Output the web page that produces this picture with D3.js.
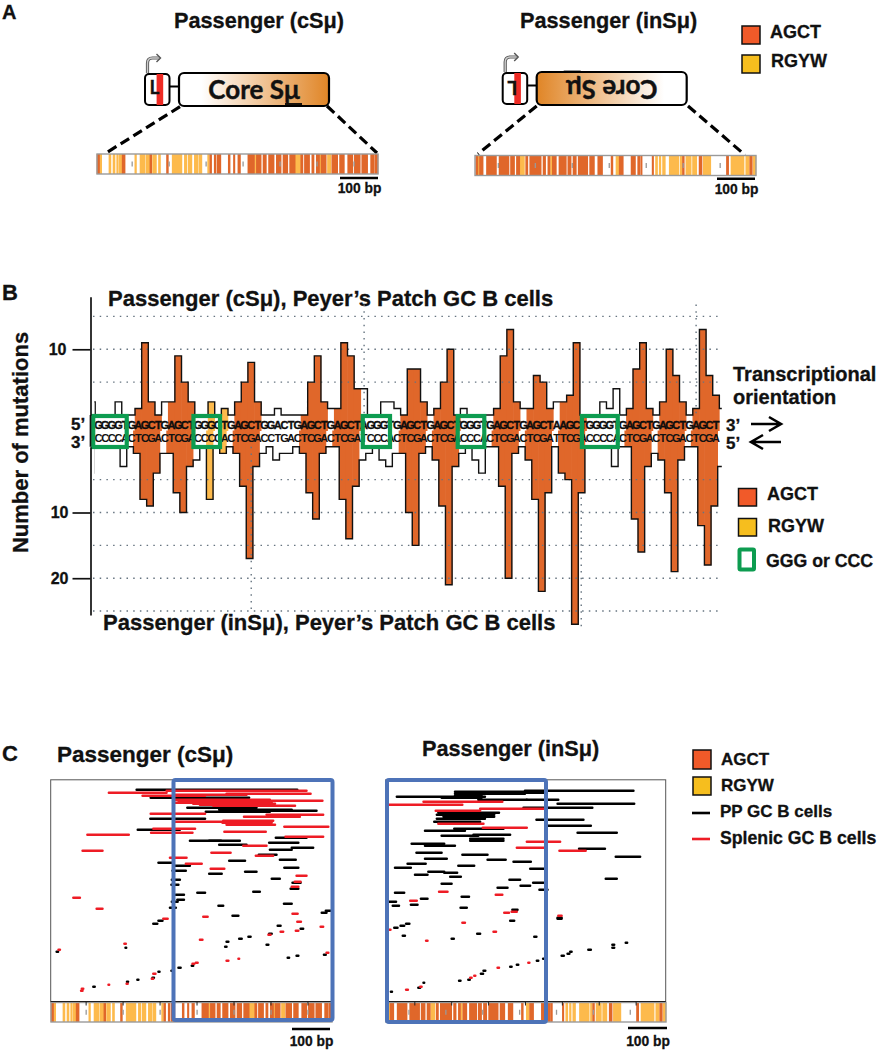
<!DOCTYPE html>
<html>
<head>
<meta charset="utf-8">
<script src="https://cdn.jsdelivr.net/npm/d3@7"></script>
<style>
  html, body { margin: 0; padding: 0; background: #fff; }
  svg { display: block; }
  text { font-family: "Liberation Sans", Arial, sans-serif; font-weight: bold; fill: #111; }
</style>
</head>
<body>
<div id="chart"></div>
<script>
// motif stripes along the 760 bp core region, [start, end] in bp
const cAgct = [[0,7],[68,76],[143,148],[188,193],[305,310],[317,322],[325,335],[355,360],[369,373],[381,388],[408,426],[431,444],[449,458],[464,479],[485,498],[503,516],[521,536],[551,557],[561,575],[581,587],[593,602],[606,620],[635,651],[656,669],[678,692],[696,712],[716,732],[740,750],[752,760]];
const cRgyw = [[7,13],[32,38],[43,49],[53,58],[60,68],[102,107],[116,130],[132,143],[150,161],[166,172],[203,230],[236,243],[246,257],[263,274],[276,284],[299,304],[426,431],[536,551],[602,606],[623,633]];
const inAgct = [[2,8],[12,22],[31,58],[65,92],[96,107],[112,121],[137,143],[148,179],[184,191],[197,203],[209,220],[227,247],[251,260],[265,274],[279,305],[310,323],[332,345],[368,373],[390,401],[422,434],[440,447],[449,452],[479,483],[561,566],[606,614],[680,686],[743,750]];
const inRgyw = [[8,12],[122,134],[204,208],[381,389],[488,494],[498,503],[507,515],[525,552],[555,560],[570,585],[588,600],[617,638],[692,728],[732,742],[752,760]];
const cMarks = [95,195,295,395,495,595,695];
const inMarks = [63,163,263,363,463,563,663];
const inRulerC = [79,179,279,379,479,579,679];

// panel B, mutations per nucleotide on each strand (bin 0 is the cut off bin before the sequence)
const sequence = ' GGGGTGAGCTGAGCTGGGGTGAGCTGGACTGAGCTGAGCTAGGGTGAGCTGAGCTGGGTGAGCTGAGCTAAGCTGGGGTGAGCTGAGCTGAGCT';
const topCounts = [2,0,0,0,2,0,0,1,11,2,0,2,2,9,5,2,0,0,2,0,1,0,2,5,8,2,0,0,1,0,0,0,0,5,9,2,1,1,11,9,4,4,0,0,2,2,1,0,7,7,2,0,1,5,10,0,1,0,0,0,0,1,9,13,2,1,1,6,5,1,2,2,3,11,0,0,0,2,1,4,0,1,7,11,1,0,2,10,6,2,0,1,13,6,3,1];
const bottomCounts = [4,0,0,0,0,3,0,1,8,9,4,1,1,7,10,3,2,0,8,0,1,0,1,6,17,3,1,0,2,1,1,0,1,7,11,1,0,0,8,14,6,2,1,0,2,3,1,1,10,15,1,0,2,9,21,3,1,0,2,4,0,0,6,20,1,0,2,8,22,7,0,4,5,27,7,0,0,0,0,3,0,0,11,16,3,1,2,7,19,2,0,0,12,18,9,3];
const rgywBins = [18,20];
const gggStart = [0.7,15.8,41.3,55.6,74.3];
const gggEnd = [5.75,19.8,45.4,59.6,79.7];
const topTicks = [10];
const bottomTicks = [10,20];
const topGrid = [15,10,5];
const bottomGrid = [5,10,15,20,25];

// panel C, mutated tracts [start bp, end bp, row]
const cPP = [[232,666,212],[270,536,204],[369,556,194],[455,651,192],[419,592,190],[536,718,191],[269,417,183],[235,349,172],[376,511,161],[428,460,161],[608,691,164],[590,669,159],[455,529,157],[592,651,152],[651,709,154],[562,610,147],[619,662,142],[482,525,141],[291,331,139],[336,376,136],[631,669,134],[329,365,131],[525,556,130],[428,462,128],[597,619,123],[327,349,122],[326,345,117],[653,675,119],[648,669,113],[396,417,109],[547,565,110],[338,360,107],[342,360,102],[327,343,100],[453,466,96],[630,651,98],[322,338,94],[491,507,86],[732,745,89],[743,756,91],[291,302,81],[277,288,78],[613,621,76],[534,540,65],[509,516,63],[475,480,60],[471,475,55],[583,588,57],[590,597,68],[675,682,73],[16,20,50],[202,204,54],[640,644,44],[664,669,46],[738,743,47],[345,351,34],[326,330,31],[291,294,30],[381,385,36],[275,279,24],[115,119,15],[234,237,22],[206,209,20]];
const cSplenic = [[157,313,209],[313,691,211],[475,702,208],[248,417,206],[331,529,207],[336,592,202],[345,734,201],[336,597,199],[385,606,198],[439,660,196],[403,556,197],[270,417,188],[522,673,185],[583,736,187],[333,464,180],[466,601,181],[464,597,179],[475,606,177],[277,390,173],[271,383,169],[469,581,170],[631,750,175],[99,211,167],[634,736,165],[520,583,156],[86,140,151],[434,486,149],[554,601,146],[322,367,144],[365,408,138],[432,469,133],[664,691,126],[659,675,120],[651,669,115],[61,79,104],[124,140,93],[304,316,83],[412,424,85],[653,667,88],[666,676,80],[729,736,75],[621,628,70],[662,669,71],[588,594,67],[403,410,62],[199,203,58],[21,25,52],[745,750,49],[475,480,41],[507,509,43],[392,397,39],[383,388,38],[277,283,28],[273,277,23],[84,88,13],[82,86,11],[156,158,17],[205,208,18]];
const inPP = [[30,268,205],[187,376,208],[187,376,210],[187,259,206],[151,259,204],[376,669,211],[376,430,209],[250,381,202],[381,466,202],[464,671,198],[372,558,194],[142,306,189],[138,293,187],[156,293,185],[138,268,183],[131,255,180],[106,214,171],[185,318,173],[407,534,182],[432,554,176],[518,624,169],[151,250,166],[237,336,167],[228,318,163],[228,318,161],[70,158,158],[106,158,156],[133,187,156],[522,592,153],[83,151,149],[106,165,143],[207,275,147],[621,687,145],[275,324,142],[345,392,140],[59,108,138],[25,68,134],[196,239,136],[390,430,133],[115,158,130],[158,193,129],[79,113,127],[174,203,125],[334,363,122],[594,624,123],[398,426,119],[364,390,116],[151,178,118],[302,329,114],[25,50,109],[415,437,112],[205,225,105],[95,113,103],[9,28,100],[68,86,97],[19,36,96],[202,219,94],[342,356,92],[336,347,81],[55,64,78],[40,50,76],[23,32,74],[464,475,84],[464,475,83],[247,255,68],[46,52,66],[178,184,63],[401,407,65],[612,617,57],[612,617,54],[648,652,59],[547,554,52],[498,502,50],[491,496,48],[475,481,46],[425,429,43],[408,412,41],[354,358,37],[336,340,35],[264,269,31],[257,263,28],[223,227,22],[198,202,21],[102,104,19],[88,93,14],[14,17,10]];
const inSplenic = [[5,207,197],[102,315,200],[135,255,191],[255,426,193],[142,264,178],[262,381,174],[381,471,160],[354,430,154],[469,540,151],[144,167,110],[66,84,101],[297,315,107],[320,333,89],[340,354,90],[466,475,86],[207,214,79],[5,13,72],[291,298,70],[109,113,61],[385,388,39],[302,306,34],[239,242,26],[228,232,24],[93,97,15],[55,60,12]];

const width = 883;
const height = 1050;
const orange = '#e0672a';
const yellow = '#fdba4c';
const legendOrange = '#f15a29';
const legendYellow = '#f6be1e';
const green = '#0d9c50';
const blue = '#4d73b8';
const red = '#ee1c25';

const svg = d3.select('#chart').append('svg')
    .attr('width', width)
    .attr('height', height);

const defs = svg.append('defs');

const label = (txt, x, y, size, anchor) => svg.append('text')
    .attr('x', x)
    .attr('y', y)
    .attr('font-size', size)
    .attr('text-anchor', anchor || 'start')
    .attr('stroke', '#111')
    .attr('stroke-width', 0.3)
    .text(txt);

// barcode of AGCT / RGYW stripes
const drawTrack = (x0, x1, y, h, agct, rgyw, marks) => {
    const x = d3.scaleLinear().domain([0, 760]).range([x0, x1]);
    const g = svg.append('g');
    g.append('rect').attr('x', x0).attr('y', y).attr('width', x1 - x0).attr('height', h).attr('fill', '#fff');
    g.selectAll('.y').data(rgyw).enter().append('rect')
        .attr('x', d => x(d[0]) - 0.2)
        .attr('y', y)
        .attr('width', d => x(d[1]) - x(d[0]) + 0.4)
        .attr('height', h)
        .attr('fill', yellow);
    g.selectAll('.o').data(agct).enter().append('rect')
        .attr('x', d => x(d[0]) - 0.3)
        .attr('y', y)
        .attr('width', d => x(d[1]) - x(d[0]) + 0.6)
        .attr('height', h)
        .attr('fill', orange);
    g.selectAll('.m').data(marks).enter().append('rect')
        .attr('x', d => x(d) - 0.6)
        .attr('y', y + h / 2 - 2.5)
        .attr('width', 1.3)
        .attr('height', 5)
        .attr('fill', '#999');
    g.append('rect').attr('x', x0).attr('y', y).attr('width', x1 - x0).attr('height', h)
        .attr('fill', 'none').attr('stroke', '#9a9a9a').attr('stroke-width', 1.4);
};

const scaleBar = (x0, x1, y, textY) => {
    svg.append('line').attr('x1', x0).attr('x2', x1).attr('y1', y).attr('y2', y)
        .attr('stroke', '#000').attr('stroke-width', 2.4);
    label('100 bp', (x0 + x1) / 2 + 0.5, textY, 13.8, 'middle');
};

// construct cartoon in panel A
const drawConstruct = (lx, coreX, coreW, y, h, flip) => {
    const gradId = flip ? 'coreIn' : 'coreC';
    const grad = defs.append('linearGradient').attr('id', gradId)
        .attr('x1', flip ? 1 : 0).attr('x2', flip ? 0 : 1).attr('y1', 0).attr('y2', 0);
    grad.append('stop').attr('offset', '0.15').attr('stop-color', '#fff');
    grad.append('stop').attr('offset', '1').attr('stop-color', '#e08526');

    svg.append('rect').attr('x', lx).attr('y', y + 1).attr('width', 24.5).attr('height', h - 2)
        .attr('rx', 4).attr('fill', '#fff').attr('stroke', '#000').attr('stroke-width', 2);
    svg.append('rect').attr('x', lx + 11.6).attr('y', y + 1).attr('width', 6.6).attr('height', h - 2)
        .attr('fill', '#ee2b24');
    const ell = label('L', lx + 9.5, y + 21, 19, 'middle').style('font-family', 'Lato');
    if (flip) ell.attr('transform', `rotate(180 ${lx + 9.5} ${y + 15})`);
    svg.append('line').attr('x1', lx + 24.5).attr('x2', coreX).attr('y1', y + 13.5).attr('y2', y + 13.5)
        .attr('stroke', '#000').attr('stroke-width', 2);
    svg.append('rect').attr('x', coreX).attr('y', y).attr('width', coreW).attr('height', h)
        .attr('rx', 5).attr('fill', `url(#${gradId})`).attr('stroke', '#000').attr('stroke-width', 2.2);

    const cx = coreX + coreW / 2;
    const cy = y + h / 2;
    svg.append('text')
        .attr('x', cx)
        .attr('y', cy + 9)
        .attr('text-anchor', 'middle')
        .attr('font-size', 26)
        .attr('stroke', '#111')
        .attr('stroke-width', 0.4)
        .style('font-family', 'Lato')
        .attr('transform', flip ? `rotate(180 ${cx} ${cy})` : null)
        .text('Core Sμ');
    const smudge = flip ? [coreX + 27, coreX + 44, y - 0.5] : [coreX + 106, coreX + 123, y + 31];
    svg.append('line').attr('x1', smudge[0]).attr('x2', smudge[1]).attr('y1', smudge[2]).attr('y2', smudge[2])
        .attr('stroke', '#000').attr('stroke-width', 1.8);

    // promoter arrow
    const ax = lx + 2.5;
    const arrow = `M${ax},${y} L${ax},${y - 10} Q${ax},${y - 15} ${ax + 5},${y - 15} L${ax + 12},${y - 15}`;
    svg.append('path').attr('d', arrow).attr('fill', 'none').attr('stroke', '#555').attr('stroke-width', 3.2);
    svg.append('path').attr('d', arrow).attr('fill', 'none').attr('stroke', '#ccc').attr('stroke-width', 1.4);
    svg.append('path').attr('d', `M${ax + 9},${y - 19} L${ax + 13},${y - 15} L${ax + 9},${y - 11}`)
        .attr('fill', 'none').attr('stroke', '#555').attr('stroke-width', 1.4);
};

const dashed = (x1, y1, x2, y2) => svg.append('line')
    .attr('x1', x1).attr('y1', y1).attr('x2', x2).attr('y2', y2)
    .attr('stroke', '#000').attr('stroke-width', 3.2).attr('stroke-dasharray', '10 5');

const swatch = (x, y, w, h, fill) => svg.append('rect')
    .attr('x', x).attr('y', y).attr('width', w).attr('height', h)
    .attr('fill', fill).attr('stroke', '#111').attr('stroke-width', 1.5);

// ---------- panel A ----------
label('A', 2, 19, 20);
label('Passenger (cSμ)', 174, 28, 21.7);
label('Passenger (inSμ)', 520, 28, 21.7);

drawConstruct(145, 179, 150, 73, 33, false);
drawConstruct(502.7, 536.7, 150, 72, 33, true);
dashed(180, 106.7, 106, 153);
dashed(327, 106, 377, 153);
dashed(536.7, 106, 478, 154);
dashed(688, 106, 745, 155);

drawTrack(97, 378, 154, 20, cAgct, cRgyw, cMarks);
drawTrack(475, 756, 155.5, 20, inAgct, inRgyw, inMarks);
scaleBar(340, 378, 178, 193);
scaleBar(717, 755, 178.7, 194);

swatch(742, 26, 18, 18, legendOrange);
swatch(742, 55, 18, 18, legendYellow);
label('AGCT', 770, 38, 18);
label('RGYW', 771, 67, 18);

// ---------- panel B ----------
label('B', 2, 300, 22);
label('Passenger (cSμ), Peyer’s Patch GC B cells', 108, 306, 22);
label('Passenger (inSμ), Peyer’s Patch GC B cells', 103, 630, 22);

const bins = d3.range(topCounts.length);
const x = d3.scaleLinear().domain([0, 1]).range([88.55, 95.19]);
const xb = d3.scaleLinear().domain([0, 1]).range([86.9, 93.54]);
const yTop = d3.scaleLinear().domain([0, 18]).range([415, 296.7]);
const yBot = d3.scaleLinear().domain([0, 25.6]).range([446.8, 615]);
const bandMid = 431;

// which bins are AGCT hotspots
const agctBins = [];
for (let i = sequence.indexOf('AGCT'); i >= 0; i = sequence.indexOf('AGCT', i + 1)) {
    agctBins.push(i, i + 1, i + 2, i + 3);
}
const binColor = i => agctBins.includes(i) ? orange : (rgywBins.includes(i) ? yellow : null);
const filled = bins.filter(i => binColor(i));

defs.append('clipPath').attr('id', 'histClip').append('rect')
    .attr('x', 94.3).attr('y', 290).attr('width', 627.5).attr('height', 345);

const hist = svg.append('g').attr('clip-path', 'url(#histClip)');

// neighbouring bins overlap a little so no seam shows between them
const barW = x(1) - x(0);
hist.selectAll('.barTop').data(filled).enter().append('rect')
    .attr('x', d => x(d) - 0.3)
    .attr('y', d => yTop(topCounts[d]))
    .attr('width', barW + 0.6)
    .attr('height', d => bandMid - yTop(topCounts[d]))
    .attr('fill', binColor);
hist.selectAll('.barBot').data(filled).enter().append('rect')
    .attr('x', d => xb(d) - 0.3)
    .attr('y', bandMid - 0.5)
    .attr('width', barW + 0.6)
    .attr('height', d => yBot(bottomCounts[d]) - bandMid + 0.5)
    .attr('fill', binColor);

// dotted grid
const dots = sel => sel.attr('stroke', '#667480').attr('stroke-width', 1.4).attr('stroke-dasharray', '1.5 5.2');
svg.selectAll('.gt').data(topGrid).enter().append('line')
    .attr('x1', 93).attr('x2', 722)
    .attr('y1', d => yTop(d)).attr('y2', d => yTop(d))
    .call(dots);
svg.selectAll('.gb').data(bottomGrid).enter().append('line')
    .attr('x1', 93).attr('x2', 722)
    .attr('y1', d => yBot(d)).attr('y2', d => yBot(d))
    .call(dots);
[[41.5, yTop(16.8), yTop(0)], [91.5, yTop(16.8), yTop(0)], [24.5, yBot(0), yBot(25)], [74.2, yBot(7.7), yBot(28)]].forEach(v => {
    svg.append('line').attr('x1', x(v[0])).attr('x2', x(v[0])).attr('y1', v[1]).attr('y2', v[2]).call(dots);
});

const stepTop = d3.line().curve(d3.curveStepAfter).x(d => x(d)).y(d => yTop(topCounts[Math.min(d, 95)]));
const stepBot = d3.line().curve(d3.curveStepAfter).x(d => xb(d)).y(d => yBot(bottomCounts[Math.min(d, 95)]));
const edges = d3.range(topCounts.length + 1);
const histLines = svg.append('g').attr('clip-path', 'url(#histClip)');
histLines.append('path').attr('d', stepTop(edges)).attr('fill', 'none').attr('stroke', '#111').attr('stroke-width', 1.4);
histLines.append('path').attr('d', stepBot(edges)).attr('fill', 'none').attr('stroke', '#111').attr('stroke-width', 1.4);

// the two strands, one letter per bin
const complement = {G: 'C', C: 'G', A: 'T', T: 'A'};
const letters = bins.filter(i => sequence[i] && sequence[i] !== ' ');
svg.selectAll('.seqTop').data(letters).enter().append('text')
    .attr('x', d => x(d) + 3.3)
    .attr('y', 429.3)
    .attr('text-anchor', 'middle')
    .attr('font-size', 11)
    .attr('stroke', '#000')
    .attr('stroke-width', 0.3)
    .text(d => sequence[d]);
svg.selectAll('.seqBot').data(letters).enter().append('text')
    .attr('x', d => x(d) + 3.3)
    .attr('y', 441.5)
    .attr('text-anchor', 'middle')
    .attr('font-size', 11)
    .text(d => complement[sequence[d]]);

svg.selectAll('.ggg').data(gggStart).enter().append('rect')
    .attr('x', d => x(d))
    .attr('y', 416)
    .attr('width', (d, i) => x(gggEnd[i]) - x(d))
    .attr('height', 31)
    .attr('fill', 'none')
    .attr('stroke', green)
    .attr('stroke-width', 4.2);

// y axis, built from the two scales
const axisTop = d3.axisLeft(yTop).tickValues(topTicks).tickSizeInner(18).tickSizeOuter(0).tickPadding(6);
const axisBot = d3.axisLeft(yBot).tickValues(bottomTicks).tickSizeInner(18).tickSizeOuter(0).tickPadding(4);
[svg.append('g').call(axisTop), svg.append('g').call(axisBot)].forEach(a => {
    a.attr('transform', 'translate(90.5,0)');
    a.selectAll('path, line').attr('stroke', '#111').attr('stroke-width', 1.7);
    a.selectAll('text').attr('font-size', 16).attr('font-family', null).attr('stroke', '#111').attr('stroke-width', 0.3);
});
svg.append('line').attr('x1', 90.5).attr('x2', 90.5).attr('y1', yTop(0)).attr('y2', yBot(0))
    .attr('stroke', '#111').attr('stroke-width', 1.7);

label('Number of mutations', 0, 0, 22, 'middle').attr('transform', 'translate(28,442.5) rotate(-90)');

label('5’', 71, 430, 17);
label('3’', 71, 448, 17);
label('3’', 726, 431, 17);
label('5’', 726, 449, 17);
label('Transcriptional', 733, 381, 20);
label('orientation', 733, 404, 20);

const arrowPath = (x0, x1, y, dir) => `M${x0},${y} L${x1},${y} M${x1 - dir * 12},${y - 7} L${x1},${y} L${x1 - dir * 12},${y + 7}`;
svg.append('path').attr('d', arrowPath(751, 781, 424, 1)).attr('fill', 'none').attr('stroke', '#000').attr('stroke-width', 2.6);
svg.append('path').attr('d', arrowPath(781, 751, 442, -1)).attr('fill', 'none').attr('stroke', '#000').attr('stroke-width', 2.6);

swatch(738.5, 488.5, 18, 17.5, legendOrange);
swatch(738.5, 518.5, 18, 17.5, legendYellow);
svg.append('rect').attr('x', 739.5).attr('y', 549.5).attr('width', 14.5).attr('height', 20)
    .attr('fill', 'none').attr('stroke', green).attr('stroke-width', 4).attr('rx', 1);
label('AGCT', 767, 500, 18);
label('RGYW', 768, 532, 18);
label('GGG or CCC', 766, 567, 17.7);

// ---------- panel C ----------
label('C', 2, 761, 22);
label('Passenger (cSμ)', 57, 762, 22.5);
label('Passenger (inSμ)', 422, 756, 21.7);

const drawTracts = (x0, x1, domainEnd, pp, splenic) => {
    const px = d3.scaleLinear().domain([0, domainEnd]).range([x0, x1]);
    const py = d3.scaleLinear().domain([0, 222]).range([1001.8, 779.8]);
    const g = svg.append('g');
    g.append('rect').attr('x', x0).attr('y', py(222)).attr('width', x1 - x0).attr('height', py(0) - py(222))
        .attr('fill', '#fff').attr('stroke', '#555').attr('stroke-width', 1);
    const seg = (data, color) => g.selectAll(null).data(data).enter().append('line')
        .attr('x1', d => px(d[0]))
        .attr('x2', d => px(d[1]))
        .attr('y1', d => py(d[2]))
        .attr('y2', d => py(d[2]))
        .attr('stroke', color)
        .attr('stroke-linecap', 'round')
        .attr('stroke-width', 2.4);
    seg(pp, '#000');
    seg(splenic, red);
    g.append('line').attr('x1', x0).attr('x2', x1).attr('y1', py(0)).attr('y2', py(0))
        .attr('stroke', '#000').attr('stroke-width', 1.4);
};

drawTracts(50.7, 331.7, 759, cPP, cSplenic);
drawTracts(385.7, 665.7, 756, inPP, inSplenic);

drawTrack(51, 332, 1002.5, 19.5, cAgct, cRgyw, cMarks);
drawTrack(385.7, 666, 1002.5, 19.5, inAgct, inRgyw, inMarks);

const ruler = (x0, x1, ticks) => {
    const rx = d3.scaleLinear().domain([0, 760]).range([x0, x1]);
    svg.selectAll(null).data(ticks).enter().append('line')
        .attr('x1', d => rx(d)).attr('x2', d => rx(d))
        .attr('y1', 1001.8).attr('y2', 1005.5)
        .attr('stroke', '#222').attr('stroke-width', 1);
};
ruler(51, 332, cMarks);
ruler(385.7, 666, inRulerC);

// blue boxes highlight the AGCT rich half
const box = (x0, y0, w, h) => svg.append('rect')
    .attr('x', x0).attr('y', y0).attr('width', w).attr('height', h)
    .attr('rx', 2).attr('fill', 'none').attr('stroke', blue).attr('stroke-width', 4);
box(173.5, 780, 159, 240);
box(387, 780, 159, 242);

scaleBar(292, 330, 1029, 1046);
scaleBar(628, 667, 1028, 1046);

swatch(693, 750, 18, 19, legendOrange);
swatch(693, 777, 18, 18, legendYellow);
svg.append('line').attr('x1', 692).attr('x2', 710).attr('y1', 813).attr('y2', 813).attr('stroke', '#000').attr('stroke-width', 2.6);
svg.append('line').attr('x1', 692).attr('x2', 710).attr('y1', 839).attr('y2', 839).attr('stroke', red).attr('stroke-width', 2.6);
label('AGCT', 721, 765, 17);
label('RGYW', 721, 791, 17);
label('PP GC B cells', 720, 817, 17);
label('Splenic GC B cells', 720, 844, 17.7);
</script>
</body>
</html>
